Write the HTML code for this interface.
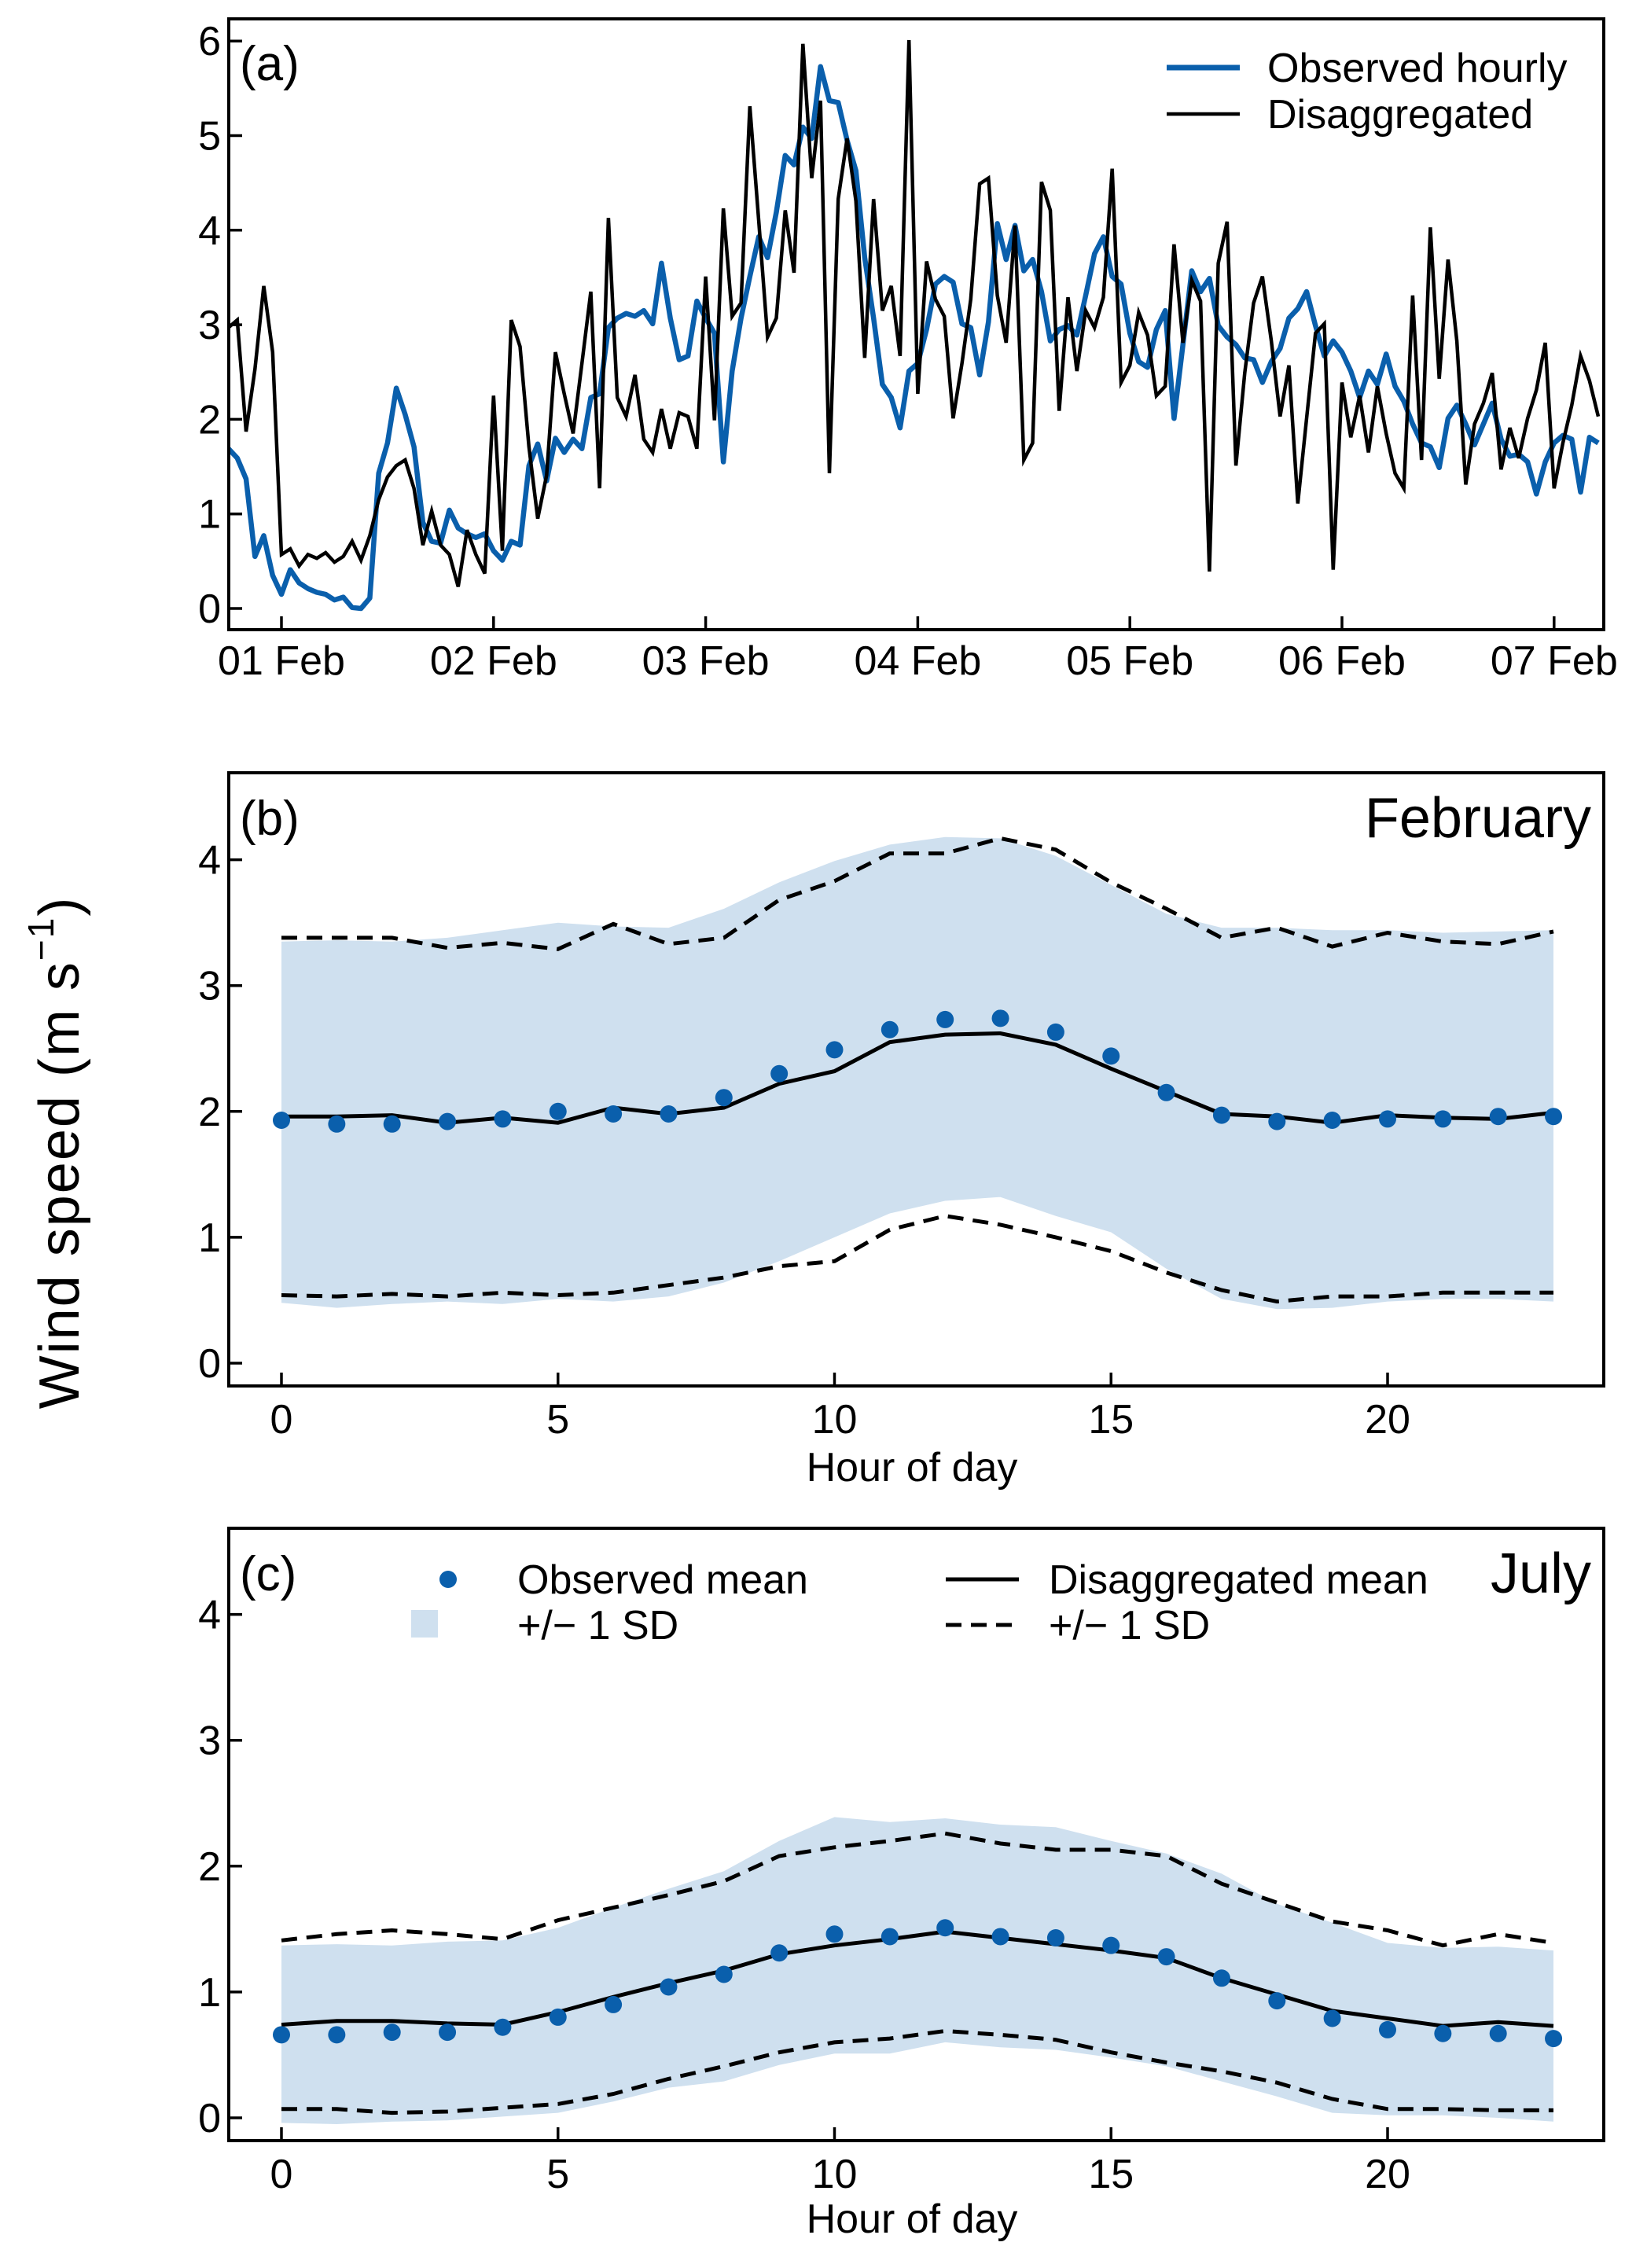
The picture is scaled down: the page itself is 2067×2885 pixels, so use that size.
<!DOCTYPE html>
<html><head><meta charset="utf-8">
<style>
html,body{margin:0;padding:0;background:#fff;}
svg{display:block;font-family:"Liberation Sans",Arial,sans-serif;}
</style></head>
<body>
<svg id="chart" width="2067" height="2885" viewBox="0 0 2067 2885" xmlns="http://www.w3.org/2000/svg">
<rect width="2067" height="2885" fill="#fff"/>
<text transform="translate(100,1466) rotate(-90)" text-anchor="middle" font-size="72" letter-spacing="2" fill="#000">Wind speed  (m s<tspan dy="-32" font-size="46">−1</tspan><tspan dy="32">)</tspan></text>
</svg>
<script>
// ---------- Panel (a) data: hourly series starting at hour -6 relative to 01 Feb 00:00 ----------
const tsStartHour = -6;
const observedHourly = [1.69,1.59,1.37,0.55,0.77,0.35,0.15,0.41,0.27,0.21,0.17,0.15,0.09,0.12,0.01,0,0.11,1.43,1.75,2.33,2.05,1.71,0.91,0.71,0.69,1.04,0.85,0.79,0.75,0.79,0.61,0.51,0.71,0.67,1.51,1.74,1.35,1.80,1.65,1.79,1.69,2.23,2.27,2.97,3.07,3.12,3.09,3.15,3.01,3.65,3.07,2.63,2.67,3.25,3.07,2.91,1.55,2.51,3.07,3.51,3.93,3.71,4.19,4.79,4.69,5.09,4.97,5.73,5.37,5.35,4.95,4.63,3.71,3.07,2.37,2.23,1.91,2.51,
2.59,2.95,3.43,3.51,3.45,3.01,2.97,2.47,3.03,4.07,3.69,4.05,3.57,3.69,3.35,2.83,2.95,2.99,2.89,3.31,3.75,3.93,3.51,3.43,2.91,2.61,2.55,2.95,3.15,2.01,2.79,3.57,3.35,3.49,2.99,2.87,2.79,2.65,2.63,2.39,2.61,2.75,3.07,3.17,3.35,2.99,2.67,2.83,2.71,2.51,2.23,2.51,2.37,2.69,2.35,2.19,1.95,1.75,1.71,1.49,2.01,2.15,1.95,1.73,1.95,2.17,1.79,1.61,1.63,1.55,1.21,1.55,1.75,1.83,1.79,1.23,1.81,1.75];
const disaggregatedHourly = [2.97,3.05,1.87,2.53,3.41,2.71,0.57,0.63,0.45,0.57,0.53,0.59,0.49,0.55,0.71,0.51,0.77,1.15,1.39,1.51,1.57,1.27,0.67,1.03,0.67,0.57,0.23,0.83,0.57,0.37,2.25,0.61,3.05,2.77,1.71,0.95,1.41,2.71,2.27,1.85,2.59,3.35,1.27,4.13,2.23,2.03,2.47,1.79,1.65,2.11,1.69,2.07,2.03,1.69,3.51,1.99,4.23,3.09,3.23,5.31,4.1,2.87,3.07,4.21,3.55,5.97,4.55,5.37,1.43,4.33,4.97,4.31,2.65,4.33,3.15,3.41,2.67,6.01,
2.27,3.67,3.27,3.09,2.01,2.59,3.27,4.49,4.55,3.31,2.81,4.05,1.57,1.75,4.51,4.21,2.09,3.29,2.51,3.15,2.97,3.29,4.65,2.39,2.57,3.13,2.89,2.25,2.35,3.85,2.81,3.47,3.25,0.39,3.65,4.09,1.51,2.49,3.23,3.51,2.83,2.03,2.57,1.11,2.01,2.91,3.01,0.41,2.39,1.81,2.25,1.65,2.35,1.85,1.43,1.27,3.31,1.57,4.03,2.43,3.69,2.83,1.31,1.95,2.17,2.49,1.47,1.91,1.59,2.01,2.31,2.81,1.27,1.75,2.15,2.67,2.41,2.03];
const dayLabels = ["01 Feb","02 Feb","03 Feb","04 Feb","05 Feb","06 Feb","07 Feb"];
const aYTicks = [0,1,2,3,4,5,6];

// ---------- Panel (b) February ----------
const hours = [0,1,2,3,4,5,6,7,8,9,10,11,12,13,14,15,16,17,18,19,20,21,22,23];
const febObsMean = [1.93,1.90,1.90,1.92,1.94,2.00,1.98,1.98,2.11,2.30,2.49,2.65,2.73,2.74,2.63,2.44,2.15,1.97,1.92,1.93,1.94,1.94,1.96,1.96];
const febObsUpper = [3.35,3.36,3.35,3.38,3.44,3.50,3.47,3.46,3.61,3.82,3.99,4.12,4.18,4.17,4.03,3.80,3.57,3.46,3.46,3.44,3.44,3.42,3.43,3.44];
const febObsLower = [0.48,0.44,0.47,0.49,0.47,0.51,0.49,0.53,0.64,0.81,1.00,1.19,1.29,1.32,1.17,1.04,0.75,0.51,0.43,0.44,0.49,0.51,0.51,0.49];
const febDisMean = [1.96,1.96,1.97,1.91,1.95,1.91,2.03,1.98,2.03,2.22,2.32,2.55,2.61,2.62,2.53,2.34,2.16,1.98,1.96,1.91,1.97,1.95,1.94,1.99];
const febDisUpper = [3.38,3.38,3.38,3.30,3.34,3.29,3.49,3.33,3.38,3.68,3.83,4.05,4.05,4.17,4.08,3.82,3.61,3.38,3.46,3.31,3.42,3.35,3.33,3.43];
const febDisLower = [0.54,0.53,0.55,0.53,0.56,0.54,0.56,0.62,0.68,0.77,0.81,1.06,1.17,1.10,1.00,0.89,0.72,0.58,0.49,0.53,0.53,0.56,0.56,0.56];

// ---------- Panel (c) July ----------
const julObsMean = [0.66,0.66,0.68,0.68,0.72,0.80,0.90,1.04,1.14,1.31,1.46,1.44,1.51,1.44,1.43,1.37,1.28,1.11,0.93,0.79,0.70,0.67,0.67,0.63];
const julObsUpper = [1.37,1.38,1.37,1.40,1.41,1.51,1.67,1.82,1.96,2.20,2.39,2.35,2.38,2.33,2.31,2.20,2.10,1.94,1.70,1.55,1.39,1.35,1.36,1.33];
const julObsLower = [-0.04,-0.05,-0.03,-0.02,0.01,0.04,0.13,0.24,0.29,0.42,0.51,0.51,0.60,0.56,0.54,0.48,0.41,0.29,0.17,0.04,0.02,0.02,0.00,-0.03];
const julDisMean = [0.74,0.77,0.77,0.75,0.74,0.84,0.96,1.07,1.17,1.30,1.37,1.42,1.48,1.43,1.38,1.33,1.27,1.11,0.98,0.85,0.79,0.73,0.76,0.73];
const julDisUpper = [1.41,1.46,1.49,1.46,1.42,1.57,1.67,1.77,1.88,2.08,2.15,2.20,2.26,2.18,2.13,2.13,2.08,1.86,1.71,1.56,1.49,1.37,1.46,1.39];
const julDisLower = [0.07,0.07,0.04,0.05,0.08,0.11,0.19,0.31,0.41,0.52,0.60,0.63,0.69,0.66,0.62,0.52,0.44,0.37,0.28,0.15,0.07,0.07,0.06,0.06];
const hourTicks = [0,5,10,15,20];
const bcYTicks = [0,1,2,3,4];

const NS = "http://www.w3.org/2000/svg";
const svg = document.getElementById("chart");
function mk(tag, attrs, parent) {
  const e = document.createElementNS(NS, tag);
  for (const k in attrs) e.setAttribute(k, attrs[k]);
  (parent || svg).appendChild(e);
  return e;
}
const BLUE = "#0a5fac", BAND = "#cfe0ef";
const L = 291, R = 2040;
const FS = 52;

function frame(g, top, bottom) {
  const r = mk("rect", {x: L, y: top, width: R - L, height: bottom - top, fill: "none", stroke: "#000", "stroke-width": 4}, g);
  
  
}
function yAxis(g, ticks, ys) {
  ticks.forEach(t => {
    const y = ys(t);
    const tk = mk("line", {x1: L, x2: L + 17, y1: y, y2: y, stroke: "#000", "stroke-width": 3.5}, g);
    
    
    const tx = mk("text", {x: 281, y: y + 18, "text-anchor": "end", "font-size": FS}, g);
    tx.textContent = t;
    
    
  });
}
function path(pts) { return pts.map((p, i) => (i ? "L" : "M") + p[0].toFixed(1) + "," + p[1].toFixed(1)).join(""); }

// ---------- Panel (a) ----------
(function () {
  const g = mk("g", {});
  
  
  const xs = h => 358 + h * 269.8 / 24;
  const ys = v => 774 - v * 120.3;
  const clip = mk("clipPath", {id: "clipA"}, g);
  mk("rect", {x: L, y: 24, width: R - L, height: 777}, clip);
  const obsPts = observedHourly.map((v, i) => [xs(tsStartHour + i), ys(v)]);
  const disPts = disaggregatedHourly.map((v, i) => [xs(tsStartHour + i), ys(v)]);
  const pb = mk("path", {d: path(obsPts), fill: "none", stroke: BLUE, "stroke-width": 6.5, "stroke-linejoin": "round", "clip-path": "url(#clipA)"}, g);
  
  
  const pk = mk("path", {d: path(disPts), fill: "none", stroke: "#000", "stroke-width": 4.5, "stroke-linejoin": "miter", "clip-path": "url(#clipA)"}, g);
  
  
  frame(g, 24, 801);
  yAxis(g, aYTicks, ys);
  dayLabels.forEach((d, i) => {
    const x = xs(i * 24);
    const tk = mk("line", {x1: x, x2: x, y1: 801, y2: 784, stroke: "#000", "stroke-width": 3.5}, g);
    
    
    const tx = mk("text", {x: x, y: 858, "text-anchor": "middle", "font-size": FS}, g);
    tx.textContent = d;
    
    
  });
  const lab = mk("text", {x: 305, y: 102, "font-size": 62}, g);
  lab.textContent = "(a)";
  
  
  const l1 = mk("line", {x1: 1484, x2: 1577, y1: 86, y2: 86, stroke: BLUE, "stroke-width": 7}, g);
  
  
  const t1 = mk("text", {x: 1612, y: 104, "font-size": FS}, g);
  t1.textContent = "Observed hourly";
  
  
  const l2 = mk("line", {x1: 1484, x2: 1577, y1: 145, y2: 145, stroke: "#000", "stroke-width": 4.5}, g);
  
  
  const t2 = mk("text", {x: 1612, y: 163, "font-size": FS}, g);
  t2.textContent = "Disaggregated";
  
  
})();

// ---------- Diurnal panels ----------
function diurnal(name, top, bottom, y0, obsM, obsU, obsLo, disM, disU, disLo, label, month, xTitleY) {
  const g = mk("g", {});
  
  
  const xs = h => 358 + h * 70.35;
  const ys = v => y0 - v * 160.1;
  const bandPts = hours.map((h, i) => [xs(h), ys(obsU[i])]).concat(hours.slice().reverse().map((h, j) => [xs(h), ys(obsLo[hours.length - 1 - j])]));
  const band = mk("path", {d: path(bandPts) + "Z", fill: BAND, stroke: "none"}, g);
  
  
  const up = mk("path", {d: path(hours.map((h, i) => [xs(h), ys(disU[i])])), fill: "none", stroke: "#000", "stroke-width": 5, "stroke-dasharray": "20 12"}, g);
  
  
  const lo = mk("path", {d: path(hours.map((h, i) => [xs(h), ys(disLo[i])])), fill: "none", stroke: "#000", "stroke-width": 5, "stroke-dasharray": "20 12"}, g);
  
  
  const ml = mk("path", {d: path(hours.map((h, i) => [xs(h), ys(disM[i])])), fill: "none", stroke: "#000", "stroke-width": 5}, g);
  
  
  hours.forEach((h, i) => {
    const c = mk("ellipse", {cx: xs(h), cy: ys(obsM[i]), rx: 11, ry: 11, fill: BLUE}, g);
    
    
  });
  frame(g, top, bottom);
  yAxis(g, bcYTicks, ys);
  hourTicks.forEach(h => {
    const x = xs(h);
    const tk = mk("line", {x1: x, x2: x, y1: bottom, y2: bottom - 17, stroke: "#000", "stroke-width": 3.5}, g);
    
    
    const tx = mk("text", {x: x, y: bottom + 60, "text-anchor": "middle", "font-size": FS}, g);
    tx.textContent = h;
    
    
  });
  const xt = mk("text", {x: 1160, y: xTitleY, "text-anchor": "middle", "font-size": FS}, g);
  xt.textContent = "Hour of day";
  
  
  const lab = mk("text", {x: 305, y: top + 79, "font-size": 62}, g);
  lab.textContent = label;
  
  
  const mt = mk("text", {x: 2024, y: top + 82, "text-anchor": "end", "font-size": 72}, g);
  mt.textContent = month;
  
  
  return g;
}
diurnal('panel-b-february', 983, 1763, 1734, febObsMean, febObsUpper, febObsLower, febDisMean, febDisUpper, febDisLower, "(b)", "February", 1884);
const gc = diurnal('panel-c-july', 1944, 2723, 2694, julObsMean, julObsUpper, julObsLower, julDisMean, julDisUpper, julDisLower, "(c)", "July", 2840);

// legend for panel c
(function () {
  const g = gc;
  const d = mk("ellipse", {cx: 570, cy: 2009, rx: 11, ry: 11, fill: BLUE}, g);
  
  
  const t1 = mk("text", {x: 658, y: 2027, "font-size": FS}, g);
  t1.textContent = "Observed mean";
  
  
  const sq = mk("rect", {x: 523, y: 2048, width: 34, height: 35, fill: BAND}, g);
  
  
  const t2 = mk("text", {x: 658, y: 2085, "font-size": FS}, g);
  t2.textContent = "+/− 1 SD";
  
  
  const l1 = mk("line", {x1: 1203, x2: 1296, y1: 2009, y2: 2009, stroke: "#000", "stroke-width": 5}, g);
  
  
  const t3 = mk("text", {x: 1334, y: 2027, "font-size": FS}, g);
  t3.textContent = "Disaggregated mean";
  
  
  const l2 = mk("line", {x1: 1203, x2: 1296, y1: 2067, y2: 2067, stroke: "#000", "stroke-width": 5, "stroke-dasharray": "20 12"}, g);
  
  
  const t4 = mk("text", {x: 1334, y: 2085, "font-size": FS}, g);
  t4.textContent = "+/− 1 SD";
  
  
})();
</script>
</body></html>
